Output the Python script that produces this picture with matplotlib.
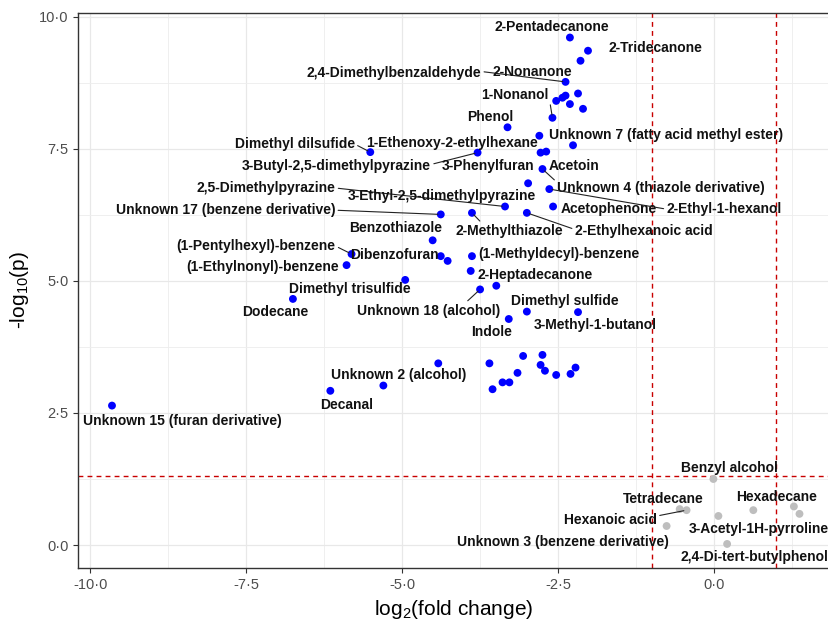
import matplotlib
matplotlib.use('Agg')
import matplotlib.pyplot as plt
import numpy as np
from matplotlib.ticker import MultipleLocator, FuncFormatter

plt.rcParams['font.family'] = ['Liberation Sans', 'DejaVu Sans']
plt.rcParams['mathtext.default'] = 'regular'

# labelled compounds
names = ['2-Pentadecanone', '2-Tridecanone', '2,4-Dimethylbenzaldehyde', '2-Nonanone',
         '1-Nonanol', 'Phenol', 'Unknown 7 (fatty acid methyl ester)', 'Dimethyl dilsufide',
         '1-Ethenoxy-2-ethylhexane', '3-Butyl-2,5-dimethylpyrazine', '3-Phenylfuran', 'Acetoin',
         'Unknown 4 (thiazole derivative)', '2,5-Dimethylpyrazine', '3-Ethyl-2,5-dimethylpyrazine',
         'Unknown 17 (benzene derivative)', 'Acetophenone', '2-Ethyl-1-hexanol', 'Benzothiazole',
         '2-Methylthiazole', '2-Ethylhexanoic acid', '(1-Pentylhexyl)-benzene', 'Dibenzofuran',
         '(1-Methyldecyl)-benzene', '(1-Ethylnonyl)-benzene', '2-Heptadecanone',
         'Dimethyl trisulfide', 'Dodecane', 'Unknown 18 (alcohol)', 'Dimethyl sulfide', 'Indole',
         '3-Methyl-1-butanol', 'Unknown 2 (alcohol)', 'Decanal', 'Unknown 15 (furan derivative)',
         'Benzyl alcohol', 'Tetradecane', 'Hexanoic acid', 'Unknown 3 (benzene derivative)',
         '3-Acetyl-1H-pyrroline', '2,4-Di-tert-butylphenol', 'Hexadecane']
log2fc = [-2.31, -2.02, -2.38, -2.14, -2.59, -3.31, -2.26, -5.51,
          -2.80, -3.79, -2.78, -2.69, -2.75, -3.35, -2.98,
          -4.38, -2.58, -2.64, -4.51, -3.88, -3.00, -5.81, -4.38,
          -3.88, -5.89, -3.90, -4.95, -6.75, -3.75, -3.00, -3.29,
          -2.18, -5.30, -6.15, -9.65, -0.01, -0.55, -0.44, -0.76,
          0.07, 0.21, 0.63]
nlog10p = [9.61, 9.36, 8.77, 9.17, 8.09, 7.91, 7.57, 7.44,
           7.75, 7.43, 7.43, 7.45, 7.12, 6.41, 6.85,
           6.26, 6.41, 6.74, 5.77, 6.29, 6.29, 5.51, 5.47,
           5.47, 5.30, 5.19, 5.02, 4.66, 4.84, 4.42, 4.28,
           4.41, 3.02, 2.92, 2.64, 1.25, 0.68, 0.66, 0.36,
           0.55, 0.02, 0.66]

# unlabelled compounds
other_fc = [-2.18, -2.38, -2.43, -2.53, -2.31, -2.10, -4.27, -3.49, -4.42, -3.60,
            -3.55, -3.39, -3.28, -3.15, -3.06, -2.75, -2.78, -2.71, -2.53, -2.30,
            -2.22, 1.28, 1.37]
other_p = [8.55, 8.51, 8.47, 8.41, 8.35, 8.26, 5.38, 4.91, 3.44, 3.44,
           2.95, 3.08, 3.08, 3.26, 3.58, 3.60, 3.41, 3.30, 3.22, 3.24,
           3.36, 0.73, 0.59]

fc_cut = 1.0
p_cut = 0.05

# where the repelled labels sit (data units)
lab_x = [-2.60, -0.94, -5.13, -2.92, -3.19, -3.59, -0.77, -6.72,
         -4.20, -6.05, -3.62, -2.24, -0.85, -7.18, -4.37,
         -7.83, -1.69, 0.16, -5.10, -3.28, -1.13, -7.34, -5.13,
         -2.48, -7.24, -2.87, -5.83, -7.04, -4.57, -2.39, -3.57,
         -1.90, -5.05, -5.89, -8.52, 0.24, -0.82, -1.66, -2.42,
         0.71, 0.64, 1.00]
lab_y = [9.80, 9.41, 8.94, 8.96, 8.52, 8.11, 7.77, 7.59,
         7.61, 7.18, 7.18, 7.18, 6.76, 6.76, 6.60,
         6.34, 6.36, 6.36, 6.00, 5.95, 5.95, 5.66, 5.49,
         5.51, 5.27, 5.12, 4.85, 4.41, 4.44, 4.62, 4.03,
         4.17, 3.22, 2.65, 2.34, 1.45, 0.88, 0.47, 0.06,
         0.30, -0.23, 0.91]
# labels joined to their point by a segment, and where on the label it starts
with_segment = {'2,4-Dimethylbenzaldehyde': (1, 0.6), 'Dimethyl dilsufide': (1, 0.5),
                '1-Nonanol': (1, 0.5), '3-Butyl-2,5-dimethylpyrazine': (1, 0.6),
                'Unknown 4 (thiazole derivative)': (0, 0.9), '2-Ethyl-1-hexanol': (0, 0.5),
                '2,5-Dimethylpyrazine': (1, 0.5), 'Unknown 17 (benzene derivative)': (1, 0.5),
                '2-Methylthiazole': (0.25, 1), '2-Ethylhexanoic acid': (0, 0.6),
                '(1-Pentylhexyl)-benzene': (1, 0.5), 'Unknown 18 (alcohol)': (0.75, 1),
                'Hexanoic acid': (1, 0.8)}

all_fc = np.array(log2fc + other_fc)
all_p = np.array(nlog10p + other_p)
signif = (np.abs(all_fc) > fc_cut) & (all_p > -np.log10(p_cut))
colors = np.where(signif, '#0000FF', '#BEBEBE')

fig = plt.figure(figsize=(8.29, 6.23), dpi=100)
ax = fig.add_axes([78.3 / 829, (623 - 568.3) / 623, 1 - 78.3 / 829, (568.3 - 12.7) / 623])

ax.set_xlim(-10.19, 1.843)
ax.set_ylim(-0.441, 10.08)
ax.xaxis.set_major_locator(MultipleLocator(2.5))
ax.xaxis.set_minor_locator(MultipleLocator(1.25))
ax.yaxis.set_major_locator(MultipleLocator(2.5))
ax.yaxis.set_minor_locator(MultipleLocator(1.25))
fmt = FuncFormatter(lambda v, pos: f'{v:.1f}'.replace('.', '·'))
ax.xaxis.set_major_formatter(fmt)
ax.yaxis.set_major_formatter(fmt)

ax.grid(which='major', color='#E8E8E8', lw=0.9, zorder=0)
ax.grid(which='minor', color='#EDEDED', lw=0.6, zorder=0)
ax.set_axisbelow(True)

ax.axvline(-fc_cut, color='#C80000', lw=1, ls=(0, (3.5, 3)), zorder=1)
ax.axvline(fc_cut, color='#C80000', lw=1, ls=(0, (3.5, 3)), zorder=1)
ax.axhline(-np.log10(p_cut), color='#C80000', lw=1, ls=(0, (3.5, 3)), zorder=1)

ax.scatter(all_fc, all_p, c=colors, s=32, linewidths=0, zorder=3)

for name, x, y, tx, ty in zip(names, log2fc, nlog10p, lab_x, lab_y):
    if name in with_segment:
        ax.annotate(name, xy=(x, y), xytext=(tx, ty), ha='center', va='center',
                    fontsize=10, fontweight='bold', color='#111111', zorder=4,
                    arrowprops=dict(arrowstyle='-', color='#222222', lw=0.8,
                                    shrinkA=0, shrinkB=2,
                                    relpos=with_segment[name]))
    else:
        ax.text(tx, ty, name, ha='center', va='center', fontsize=10,
                fontweight='bold', color='#111111', zorder=4)

for side in ['left', 'bottom', 'top']:
    ax.spines[side].set_color('#333333')
    ax.spines[side].set_linewidth(1)
ax.spines['right'].set_visible(False)

ax.tick_params(which='major', length=3.5, width=0.8, color='#333333',
               labelsize=10.5, labelcolor='#4D4D4D')
ax.tick_params(which='minor', length=0)

ax.set_xlabel('log$_2$(fold change)', fontsize=15, labelpad=4)
ax.set_ylabel('-log$_{10}$(p)', fontsize=15, labelpad=6)

fig.savefig('out.png', dpi=100)
